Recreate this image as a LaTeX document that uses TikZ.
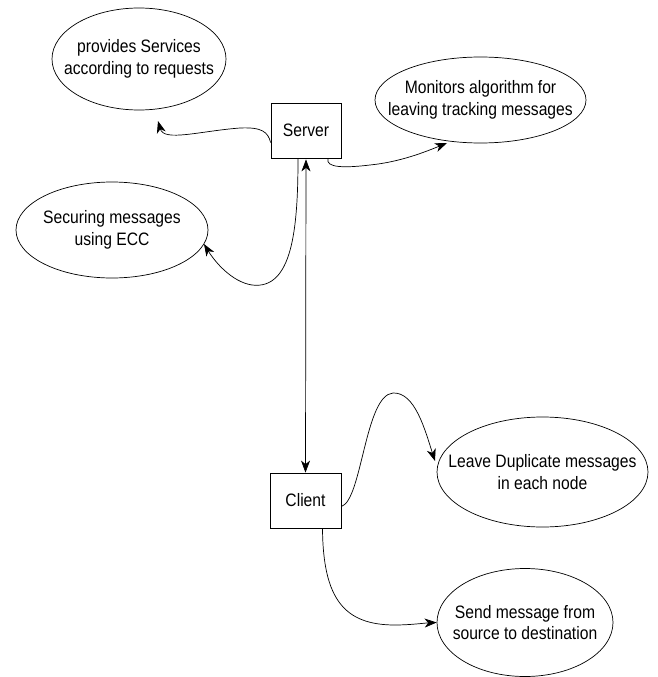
\documentclass[tikz,border=0pt]{standalone}
\usepackage{fontspec}
\setmainfont{Liberation Sans}[FakeStretch=0.87]
\usetikzlibrary{shapes.geometric,arrows.meta,calc}
\begin{document}
\begin{tikzpicture}[x=1pt,y=-1pt,
  bubble/.style={draw,ellipse,line width=0.7pt,inner sep=0pt},
  label/.style={inner sep=0pt,align=center,font=\fontsize{18}{21.5}\selectfont},
  box/.style={draw,rectangle,line width=0.8pt,inner sep=0pt,minimum width=70pt,minimum height=55pt,font=\fontsize{18}{21.5}\selectfont},
  conn/.style={line width=0.7pt,-{Stealth[length=12pt,width=9pt,inset=3.5pt]}},
  biconn/.style={line width=0.7pt,{Stealth[length=12pt,width=9pt,inset=3.5pt]}-{Stealth[length=12pt,width=9pt,inset=3.5pt]}}]
\useasboundingbox (0,0) rectangle (657,677);
\node[bubble,minimum width=174pt,minimum height=102pt] (prov) at (139,59) {};
\node[label] (provt) at (prov) {provides Services\\according to requests};
\node[bubble,minimum width=211pt,minimum height=86pt] (mon) at (480.5,100) {};
\node[label] (mont) at (mon) {Monitors algorithm for\\leaving tracking messages};
\node[bubble,minimum width=192pt,minimum height=96pt] (sec) at (112,230) {};
\node[label] (sect) at (sec) {Securing messages\\using ECC};
\node[bubble,minimum width=211pt,minimum height=110pt] (leave) at (542.5,472) {};
\node[label] (leavet) at (leave) {Leave Duplicate messages\\in each node};
\node[bubble,minimum width=176pt,minimum height=108pt] (send) at (525,622.5) {};
\node[label] (sendt) at (send) {Send message from\\source to destination};
\node[box] (server) at (306,130.5) {Server};
\node[box,minimum width=71pt] (client) at (305.5,500.5) {Client};
\coordinate (t1) at (158,121);
\coordinate (t2) at (447,143);
\coordinate (t3) at (204,244);
\coordinate (t5) at (435,461);
% server -> provides
\draw[conn] ([yshift=-12pt]server.west) .. controls (268,132) and (262,127) .. (240,128)
  .. controls (200,131) and (164,142) .. (t1);
% server -> monitors
\draw[conn] ([xshift=22pt]server.south) .. controls (325,168) and (345,168) .. (370,165)
  .. controls (400,162) and (425,152) .. (t2);
% server -> securing
\draw[conn] ([xshift=-8pt]server.south) .. controls (298,230) and (292,290) .. (252,285)
  .. controls (232,282) and (215,262) .. (t3);
% server <-> client
\draw[biconn,shorten <=1pt] (server.south) -- (client.north);
% client -> leave
\draw[conn] ([yshift=-6pt]client.east) .. controls (362,500) and (365,395) .. (393,393)
  .. controls (415,392) and (425,430) .. (t5);
% client -> send
\draw[conn] ([xshift=17pt]client.south) .. controls (323,600) and (345,625) .. (395,625)
  .. controls (410,625) and (425,623) .. (send.west);
\end{tikzpicture}
\end{document}
